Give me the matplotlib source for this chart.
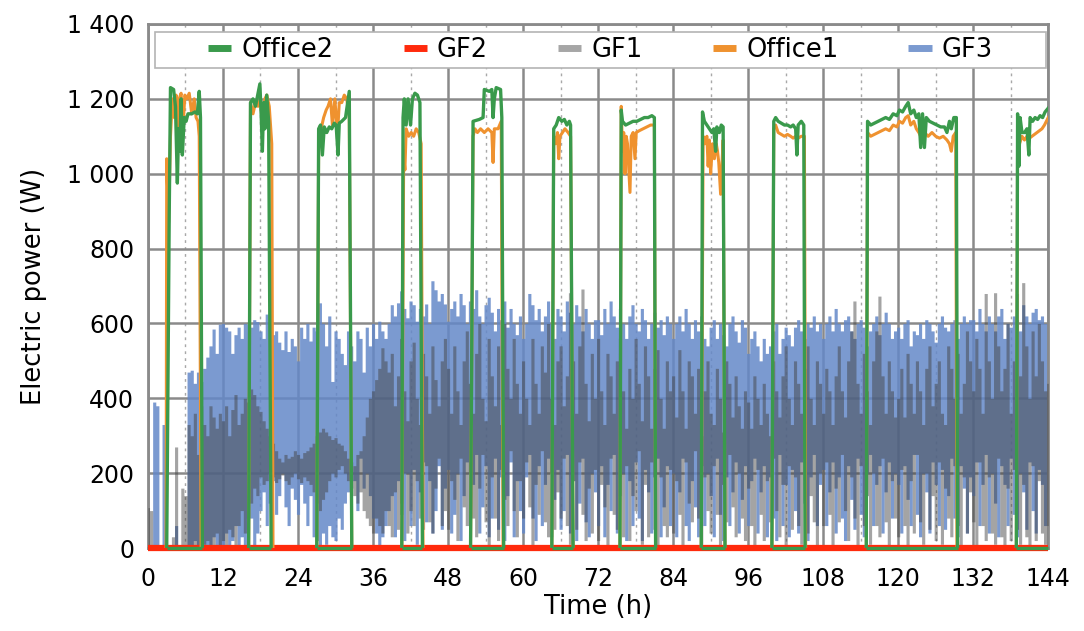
import numpy as np
import matplotlib.pyplot as plt
from matplotlib.patches import Rectangle
from matplotlib.ticker import FuncFormatter, MultipleLocator

nan = np.nan

# GF3 / GF1: min and max electric power within each half-hour bin, 0 h .. 144 h
gf3_high = [
    0, 0, 390, 380, 0, 330, 0, 0, 0, 60, 0, 0, 0, 470, 475, 440, 470, 445, 480, 510, 540, 585, 520, 598,
    600, 590, 580, 520, 570, 590, 560, 600, 598, 590, 610, 605, 580, 560, 625, 600, 570, 580, 550, 530, 580, 525, 560, 540,
    500, 590, 560, 600, 553, 590, 580, 655, 600, 540, 620, 445, 580, 560, 520, 490, 580, 540, 500, 580, 560, 470, 590, 540,
    600, 560, 606, 580, 560, 600, 650, 620, 655, 687, 640, 615, 660, 650, 606, 640, 620, 652, 600, 714, 690, 660, 680, 652,
    606, 640, 660, 620, 680, 650, 600, 660, 640, 690, 620, 600, 650, 670, 630, 580, 640, 610, 660, 590, 640, 600, 570, 620,
    560, 600, 680, 650, 610, 640, 580, 620, 660, 600, 560, 640, 620, 580, 660, 630, 600, 650, 620, 580, 640, 600, 560, 610,
    610, 570, 640, 600, 660, 620, 590, 640, 600, 560, 620, 650, 600, 580, 640, 610, 560, 600, 630, 590, 610, 570, 620, 600,
    560, 600, 620, 580, 640, 600, 560, 610, 580, 620, 560, 540, 590, 610, 560, 600, 570, 540, 600, 620, 580, 550, 610, 590,
    520, 560, 580, 540, 500, 560, 520, 540, 580, 600, 520, 560, 590, 570, 540, 590, 610, 580, 560, 600, 590, 620, 580, 600,
    560, 600, 620, 580, 640, 600, 580, 610, 620, 580, 560, 600, 610, 590, 540, 580, 600, 620, 570, 600, 630, 600, 560, 580,
    590, 560, 600, 610, 540, 580, 570, 600, 560, 610, 600, 580, 550, 600, 620, 590, 580, 600, 610, 560, 600, 620, 600, 610,
    610, 580, 640, 600, 580, 620, 600, 580, 620, 640, 560, 600, 590, 620, 610, 580, 650, 620, 600, 630, 640, 610, 620, 600,
    600,
]
gf3_low = [
    0, 0, 0, 0, 0, 0, 0, 0, 0, 0, 0, 0, 0, 0, 0, 20, 0, 0, 10, 0, 0, 30, 0, 0,
    0, 40, 0, 20, 60, 0, 30, 0, 50, 80, 0, 40, 100, 150, 60, 120, 180, 90, 140, 200, 110, 60, 160, 130,
    90, 170, 120, 60, 140, 30, 20, 0, 40, 10, 60, 30, 20, 80, 50, 120, 150, 220, 180, 100, 240, 160, 200, 140,
    80, 40, 0, 30, 60, 100, 140, 30, 180, 90, 20, 200, 60, 210, 10, 150, 230, 70, 180, 40, 100, 220, 50, 160,
    210, 40, 90, 200, 20, 140, 230, 60, 170, 250, 40, 110, 220, 30, 80, 240, 50, 190, 20, 140, 230, 30, 180, 100,
    40, 190, 250, 80, 20, 220, 60, 170, 240, 30, 130, 210, 50, 100, 250, 40, 180, 20, 120, 240, 70, 30, 200, 150,
    60, 220, 30, 170, 100, 250, 40, 140, 200, 20, 180, 60, 230, 80, 20, 210, 150, 40, 190, 240, 30, 110, 220, 60,
    200, 30, 150, 240, 60, 20, 180, 110, 30, 220, 60, 200, 140, 30, 240, 90, 20, 190, 60, 150, 230, 40, 130, 220,
    60, 180, 240, 40, 150, 220, 30, 190, 80, 20, 250, 60, 170, 30, 210, 100, 40, 230, 120, 20, 190, 250, 60, 170,
    210, 60, 150, 230, 40, 190, 80, 20, 220, 130, 50, 240, 90, 30, 200, 250, 60, 170, 220, 40, 150, 230, 80, 200,
    170, 40, 220, 130, 60, 250, 90, 30, 200, 150, 40, 230, 170, 60, 210, 50, 140, 240, 80, 30, 220, 160, 40, 190,
    140, 230, 60, 170, 250, 40, 200, 120, 30, 220, 170, 60, 240, 90, 30, 200, 150, 50, 230, 100, 40, 210, 170, 60,
    150,
]
gf1_high = [
    108, 100, 0, 0, 0, 0, 0, 0, 30, 270, 0, 160, 140, 330, 300, 360, 250, 380, 330, 300, 380, 350, 320, 360,
    340, 380, 300, 370, 410, 330, 360, 400, 390, 425, 410, 380, 365, 340, 320, 300, 280, 260, 240, 230, 250, 240, 245, 260,
    250, 240, 255, 260, 270, 280, 300, 310, 320, 310, 300, 290, 295, 280, 275, 260, 240, 230, 220, 250, 260, 300, 350, 400,
    420, 450, 480, 535, 500, 470, 520, 380, 460, 560, 420, 340, 500, 550, 400, 330, 520, 460, 360, 540, 450, 380, 500, 560,
    480, 360, 540, 420, 330, 500, 580, 440, 360, 520, 600, 400, 340, 560, 460, 380, 540, 330, 600, 480, 400, 560, 440, 360,
    500, 400, 330, 560, 440, 360, 540, 470, 600, 400, 330, 500, 540, 380, 460, 682, 500, 360, 540, 692, 440, 340, 520, 400,
    560, 420, 330, 520, 460, 360, 500, 560, 420, 320, 480, 400, 560, 440, 340, 540, 460, 320, 480, 530, 400, 320, 500, 420,
    460, 350, 530, 420, 320, 500, 460, 360, 480, 300, 420, 500, 360, 330, 480, 400, 310, 500, 440, 350, 460, 380, 320, 420,
    390, 320, 460, 400, 330, 440, 360, 300, 500, 420, 350, 460, 540, 400, 330, 500, 440, 360, 480, 540, 400, 330, 500, 440,
    360, 480, 420, 330, 460, 540, 420, 350, 500, 580, 660, 440, 360, 520, 420, 330, 500, 580, 673, 460, 360, 500, 420, 350,
    400, 480, 350, 520, 440, 360, 500, 420, 330, 480, 540, 380, 440, 500, 360, 330, 540, 480, 400, 520, 360, 440, 580, 500,
    420, 560, 480, 360, 680, 500, 400, 682, 540, 420, 480, 600, 360, 500, 680, 460, 709, 540, 400, 580, 460, 600, 500, 420,
    440,
]
gf1_low = [
    0, 0, 0, 0, 0, 0, 0, 0, 0, 0, 0, 0, 0, 0, 0, 0, 0, 0, 0, 20, 0, 0, 40, 0,
    20, 0, 50, 30, 0, 60, 100, 40, 80, 120, 160, 140, 190, 170, 180, 200, 190, 175, 185, 195, 180, 170, 190, 200,
    185, 175, 190, 180, 170, 150, 120, 100, 130, 150, 180, 200, 190, 210, 220, 200, 180, 160, 140, 120, 150, 100, 80, 60,
    40, 80, 60, 40, 100, 60, 30, 150, 50, 120, 200, 40, 100, 60, 180, 80, 50, 220, 70, 40, 160, 240, 60, 100,
    50, 180, 130, 20, 240, 110, 60, 200, 80, 30, 160, 250, 70, 0, 190, 80, 20, 210, 130, 60, 260, 100, 30, 180,
    80, 230, 110, 0, 170, 90, 260, 70, 30, 200, 50, 150, 80, 240, 60, 10, 180, 50, 230, 90, 20, 160, 40, 210,
    20, 170, 110, 0, 240, 90, 50, 190, 30, 220, 20, 140, 100, 260, 10, 170, 30, 230, 50, 0, 190, 60, 30, 210,
    40, 180, 90, 0, 230, 120, 70, 260, 80, 10, 190, 100, 40, 220, 90, 0, 170, 70, 250, 110, 30, 200, 80, 20,
    160, 60, 0, 210, 90, 20, 180, 70, 240, 100, 30, 170, 0, 220, 50, 190, 60, 10, 240, 40, 140, 70, 0, 200,
    60, 230, 90, 0, 160, 70, 250, 100, 20, 190, 80, 0, 220, 60, 140, 10, 200, 60, 30, 240, 70, 0, 180, 80,
    30, 210, 60, 0, 180, 40, 250, 70, 10, 200, 50, 140, 20, 230, 10, 160, 80, 30, 220, 60, 0, 190, 40, 150,
    70, 0, 230, 60, 20, 190, 40, 10, 240, 30, 0, 160, 20, 210, 50, 10, 170, 30, 0, 220, 20, 180, 40, 10,
    60,
]

# Office working periods (h)
office_on = [(3.0, 8.7), (16.1, 19.7), (27.0, 32.6), (40.6, 43.9), (51.6, 56.9), (64.6, 68.0),
             (75.5, 81.2), (88.5, 92.3), (99.8, 105.1), (114.9, 129.5), (138.9, 144.0)]

# Office2 load, one block per working period (NaN separates blocks)
office2_t = [
    3.0, 3.4, 3.6, 4.1, 4.4, 4.7, 4.9, 5.1, 5.3, 5.5, 5.8, 6.1, 6.4, 7.0, 7.5, 7.9, 8.2, 8.4, 8.7, nan,
    16.1, 16.4, 16.8, 17.2, 17.6, 17.9, 18.1, 18.3, 18.5, 18.7, 19.0, 19.3, 19.7, nan,
    27.0, 27.3, 27.6, 27.9, 28.2, 28.6, 29.0, 29.4, 29.8, 30.1, 30.4, 30.6, 31.0, 31.6, 32.2, 32.6, nan,
    40.6, 40.8, 41.0, 41.3, 41.6, 42.0, 42.3, 42.7, 43.1, 43.5, 43.9, nan,
    51.6, 52.0, 53.0, 53.6, 53.8, 54.6, 55.0, 55.2, 55.4, 55.7, 56.4, 56.6, 56.9, nan,
    64.6, 64.9, 65.3, 65.7, 66.2, 66.6, 67.0, 67.4, 67.6, 68.0, nan,
    75.5, 75.7, 75.9, 76.4, 77.0, 77.6, 78.2, 78.8, 79.4, 80.0, 80.6, 81.0, 81.2, nan,
    88.5, 88.7, 89.0, 89.4, 89.8, 90.2, 90.5, 90.8, 91.0, 91.4, 91.7, 92.0, 92.3, nan,
    99.8, 100.1, 100.4, 100.8, 101.3, 101.8, 102.3, 102.8, 103.2, 103.6, 103.8, 104.0, 104.5, 104.9, 105.1, nan,
    114.9, 115.1, 115.6, 116.2, 116.8, 117.4, 118.0, 118.6, 119.2, 119.8, 120.2, 120.7, 121.2, 121.6, 122.0,
    122.5, 122.9, 123.3, 123.6, 123.9, 124.2, 124.5, 125.0, 125.6, 126.2, 126.8, 127.4, 127.8, 128.2, 128.5,
    128.9, 129.3, 129.5, nan,
    138.9, 139.1, 139.3, 139.5, 139.8, 140.2, 140.6, 140.9, 141.1, 141.5, 141.9, 142.3, 142.7, 143.1, 143.5, 144.0,
]
office2_w = [
    0, 890, 1230, 1225, 1180, 975, 1120, 1060, 1200, 1050, 1150, 1140, 1160, 1160, 1165, 1160, 1220, 1150, 0, nan,
    0, 1190, 1200, 1180, 1215, 1240, 1160, 1060, 1190, 1120, 1210, 1140, 0, nan,
    0, 1120, 1130, 1050, 1125, 1110, 1125, 1120, 1135, 1130, 1050, 1135, 1140, 1150, 1220, 0, nan,
    0, 1150, 1200, 1130, 1200, 1130, 1200, 1215, 1210, 1190, 0, nan,
    0, 1140, 1145, 1150, 1225, 1220, 1225, 1150, 1200, 1230, 1225, 1150, 0, nan,
    0, 1120, 1130, 1150, 1140, 1145, 1130, 1140, 1130, 0, nan,
    0, 1170, 1140, 1130, 1135, 1140, 1140, 1145, 1150, 1150, 1155, 1150, 0, nan,
    0, 1165, 1140, 1130, 1120, 1110, 1120, 1060, 1125, 1110, 1130, 1125, 0, nan,
    0, 1140, 1150, 1140, 1135, 1130, 1130, 1125, 1130, 1120, 1050, 1130, 1140, 1130, 0, nan,
    0, 1140, 1130, 1135, 1140, 1145, 1150, 1145, 1160, 1155, 1170, 1165, 1180, 1190, 1160,
    1170, 1150, 1160, 1070, 1160, 1070, 1150, 1140, 1135, 1130, 1125, 1125, 1110, 1140, 1120,
    1150, 1150, 0, nan,
    0, 1160, 1020, 1150, 1110, 1110, 1120, 1050, 1150, 1140, 1150, 1145, 1155, 1150, 1165, 1175,
]

# Office1 load
office1_t = [
    2.9, 3.0, 3.3, 3.6, 3.9, 4.2, 4.5, 4.8, 5.0, 5.3, 5.6, 5.9, 6.2, 6.6, 7.0, 7.4, 7.7, 8.0, 8.2, 8.5, nan,
    16.1, 16.4, 16.8, 17.2, 17.6, 18.0, 18.3, 18.7, 19.0, 19.4, 19.8, 20.0, nan,
    27.0, 27.3, 27.7, 28.1, 28.5, 28.8, 29.2, 29.5, 29.9, 30.3, 30.6, 31.0, 31.4, 31.8, 32.2, 32.6, nan,
    40.6, 40.9, 41.1, 41.3, 41.7, 42.1, 42.5, 42.9, 43.3, 43.7, 44.0, nan,
    51.6, 52.0, 52.3, 52.7, 53.2, 53.8, 54.4, 55.0, 55.2, 55.4, 56.0, 56.5, 56.8, nan,
    64.6, 64.9, 65.2, 65.5, 65.7, 65.9, 66.3, 66.7, 67.2, 67.6, 68.0, nan,
    75.5, 75.7, 75.9, 76.1, 76.3, 76.5, 76.7, 77.1, 77.3, 77.6, 77.9, 78.1, 78.6, 79.2, 79.8, 80.4, 81.0, 81.2, nan,
    88.5, 88.8, 89.1, 89.4, 89.6, 89.8, 90.0, 90.3, 90.6, 90.9, 91.1, 91.3, 91.6, 92.0, 92.3, nan,
    99.8, 100.1, 100.4, 100.8, 101.3, 101.8, 102.3, 102.8, 103.2, 103.6, 104.0, 104.5, 105.0, 105.2, nan,
    114.9, 115.1, 115.6, 116.2, 116.8, 117.4, 118.0, 118.6, 119.2, 119.8, 120.2, 120.7, 121.2, 121.6, 122.0,
    122.5, 122.9, 123.3, 123.6, 124.2, 124.8, 125.4, 126.0, 126.6, 127.2, 127.8, 128.2, 128.5, 128.8, 129.2,
    129.4, nan,
    138.9, 139.1, 139.4, 139.8, 140.2, 140.6, 141.0, 141.4, 141.8, 142.2, 142.6, 143.0, 143.4, 144.0,
]
office1_w = [
    0, 1040, 870, 1100, 1200, 1150, 1210, 1080, 1200, 1215, 1120, 1210, 1200, 1215, 1160, 1200, 1150, 1140, 1100, 0, nan,
    0, 1190, 1160, 1190, 1180, 1200, 1130, 1200, 1210, 1180, 1080, 0, nan,
    0, 1080, 1120, 1150, 1170, 1180, 1200, 1130, 1200, 1100, 1190, 1190, 1210, 1200, 1150, 0, nan,
    0, 1050, 1010, 1120, 1100, 1110, 1100, 1120, 1110, 1080, 0, nan,
    0, 1100, 1120, 1110, 1120, 1110, 1120, 1110, 1030, 1120, 1120, 1140, 0, nan,
    0, 1100, 1080, 1110, 1040, 1100, 1110, 1120, 1110, 1100, 0, nan,
    0, 1180, 1060, 1110, 1000, 1100, 1080, 950, 1100, 1110, 1040, 1110, 1115, 1120, 1125, 1130, 1130, 0, nan,
    0, 1100, 1080, 1100, 1020, 1090, 1000, 1080, 1040, 1080, 1060, 1030, 945, 1090, 0, nan,
    0, 1120, 1130, 1110, 1105, 1100, 1105, 1100, 1095, 1100, 1095, 1100, 1100, 0, nan,
    0, 1110, 1100, 1105, 1110, 1115, 1120, 1115, 1130, 1125, 1140, 1135, 1150, 1155, 1130,
    1140, 1120, 1110, 1100, 1110, 1100, 1110, 1100, 1095, 1100, 1090, 1080, 1060, 1100, 1110,
    0, nan,
    0, 1100, 1080, 1100, 1090, 1100, 1095, 1100, 1105, 1110, 1115, 1120, 1130, 1150,
]

gf_t = np.arange(len(gf3_high)) * 0.5
on_start = [s for s, e in office_on]
on_end = [e for s, e in office_on]

fig = plt.figure(figsize=(10.84, 6.31), dpi=100)
ax = fig.add_axes([0.1365, 0.1315, 0.8305, 0.8305])

green = '#3a9a4c'
orange = '#ef922f'
red = '#ff2a0c'
blue = '#6488c8'
gray = '#404040'

ax.fill_between(gf_t, gf3_low, gf3_high, step='mid', color=blue, alpha=0.85, lw=0, zorder=2)
ax.fill_between(gf_t, gf1_low, gf1_high, step='mid', color=gray, alpha=0.475, lw=0, zorder=3)
ax.plot([0, 144], [0, 0], color=red, lw=4.5, solid_capstyle='butt', zorder=4, clip_on=False)
ax.plot(office1_t, office1_w, color=orange, lw=2.2, zorder=5)
ax.plot(office2_t, office2_w, color=green, lw=2.4, zorder=6)
ax.hlines(np.zeros(len(on_start)), on_start, on_end, color=green, lw=2.4, zorder=6, clip_on=False)

ax.set_xlim(0, 144)
ax.set_ylim(0, 1400)
ax.xaxis.set_major_locator(MultipleLocator(12))
ax.xaxis.set_minor_locator(MultipleLocator(6))
ax.yaxis.set_major_locator(MultipleLocator(200))
ax.yaxis.set_major_formatter(FuncFormatter(lambda v, p: f'{int(v):,}'.replace(',', ' ')))

ax.grid(True, which='major', color='#8a8a8a', lw=1.8, zorder=0)
ax.grid(True, which='minor', axis='x', color='#a8a8a8', lw=1, linestyle=(0, (2, 3)), zorder=0)
ax.set_axisbelow(True)
for s in ax.spines.values():
    s.set_color('#8a8a8a')
    s.set_linewidth(2)

ax.tick_params(which='both', length=0, labelsize=17)
ax.tick_params(axis='x', pad=14)
ax.tick_params(axis='y', pad=10)
ax.set_xlabel('Time (h)', fontsize=18.5, labelpad=2)
ax.set_ylabel('Electric power (W)', fontsize=18.5, labelpad=14)

# legend: white box across the top, entries spread evenly inside it
ax.add_patch(Rectangle((0.0078, 0.916), 0.99, 0.069, transform=ax.transAxes, facecolor='white',
                       edgecolor='#b4b4b4', lw=1.2, zorder=9))
names = ['Office2', 'GF2', 'GF1', 'Office1', 'GF3']
colors = [green, red, '#a6a6a6', orange, '#7b9ad0']
handles = [plt.Line2D([], [], color=c, lw=5, solid_capstyle='butt') for c in colors]
leg = ax.legend(handles, names, loc='center', ncol=5, mode='expand',
                bbox_to_anchor=(0.0667, 0.916, 0.872, 0.069), borderaxespad=0, borderpad=0,
                fontsize=18.5, frameon=False, handlelength=0.9, handletextpad=0.4)
leg.set_zorder(10)

fig.savefig('out.png', dpi=100, facecolor='white')
